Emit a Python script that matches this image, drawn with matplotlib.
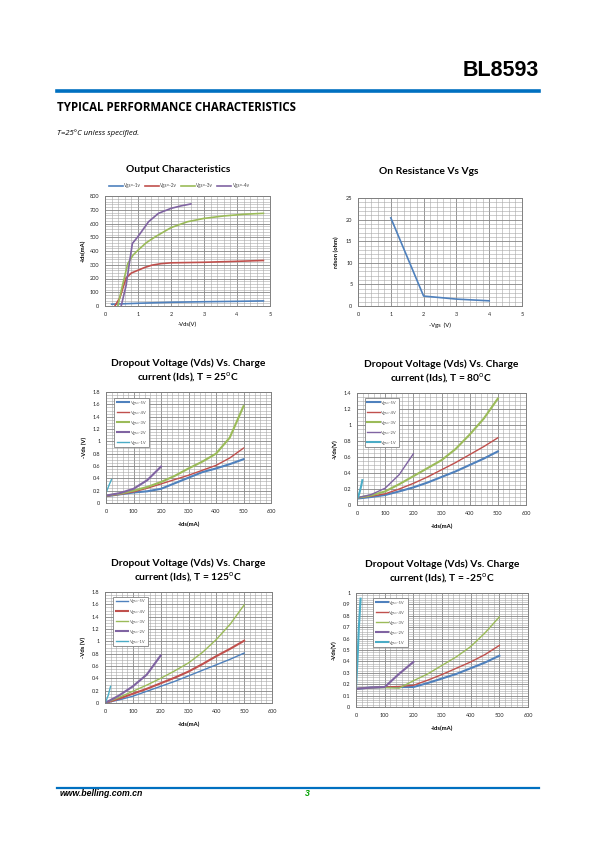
import matplotlib
matplotlib.use("Agg")
import matplotlib.pyplot as plt
from matplotlib.ticker import MultipleLocator, FormatStrFormatter
from matplotlib.lines import Line2D

plt.rcParams['font.family'] = ['Lato', 'DejaVu Sans']

# ---------------- data ----------------
# Output characteristics (-Vds V, -Ids mA)
oc_vgs1_x = [0.2, 1.0, 2.0, 3.0, 4.0, 4.8]
oc_vgs1_y = [13, 20, 27, 31, 34, 37]
oc_vgs2_x = [0.3, 0.45, 0.64, 0.8, 1.0, 1.2, 1.42, 1.7, 2.0, 3.0, 4.0, 4.8]
oc_vgs2_y = [0, 60, 204, 240, 260, 280, 297, 308, 314, 318, 325, 331]
oc_vgs3_x = [0.39, 0.5, 0.69, 0.85, 1.0, 1.25, 1.52, 2.0, 2.5, 3.0, 3.6, 4.2, 4.8]
oc_vgs3_y = [0, 120, 309, 370, 406, 460, 503, 570, 613, 637, 655, 667, 674]
oc_vgs4_x = [0.49, 0.55, 0.64, 0.75, 0.83, 1.0, 1.32, 1.62, 2.0, 2.3, 2.6]
oc_vgs4_y = [0, 60, 150, 330, 455, 505, 613, 674, 710, 728, 742]

# On resistance vs Vgs
ron_vgs = [1, 2, 3, 4]
ron_ohm = [20.4, 2.3, 1.6, 1.2]

# Dropout voltage curves (-Ids mA, -Vds V) for each temperature
do_labels = ['Vgs=-5V', 'Vgs=-4V', 'Vgs=-3V', 'Vgs=-2V', 'Vgs=-1V']
ids_main = [0, 50, 100, 150, 200, 250, 300, 350, 400, 450, 500]
ids_2v = [0, 50, 100, 150, 200]

t25_v5 = [0.11, 0.14, 0.17, 0.19, 0.23, 0.32, 0.41, 0.5, 0.56, 0.63, 0.71]
t25_v4 = [0.11, 0.14, 0.18, 0.24, 0.31, 0.38, 0.45, 0.53, 0.61, 0.73, 0.89]
t25_v3 = [0.12, 0.15, 0.2, 0.26, 0.34, 0.44, 0.56, 0.67, 0.8, 1.06, 1.57]
t25_v2 = [0.12, 0.16, 0.23, 0.37, 0.59]
t25_v1_x = [0, 5, 12, 20]
t25_v1_y = [0.16, 0.22, 0.3, 0.38]

t80_v5 = [0.08, 0.1, 0.125, 0.17, 0.22, 0.28, 0.35, 0.42, 0.5, 0.58, 0.67]
t80_v4 = [0.09, 0.11, 0.14, 0.2, 0.27, 0.35, 0.44, 0.53, 0.63, 0.73, 0.84]
t80_v3 = [0.09, 0.12, 0.17, 0.26, 0.36, 0.46, 0.56, 0.7, 0.88, 1.08, 1.33]
t80_v2 = [0.09, 0.13, 0.21, 0.38, 0.64]
t80_v1_x = [0, 5, 10, 15, 19]
t80_v1_y = [0.08, 0.11, 0.17, 0.24, 0.31]

t125_v5 = [0, 0.05, 0.11, 0.19, 0.27, 0.35, 0.44, 0.53, 0.62, 0.71, 0.81]
t125_v4 = [0, 0.07, 0.15, 0.23, 0.32, 0.41, 0.51, 0.63, 0.76, 0.88, 1.01]
t125_v3 = [0, 0.09, 0.19, 0.29, 0.4, 0.52, 0.65, 0.82, 1.03, 1.28, 1.59]
t125_v2 = [0, 0.12, 0.27, 0.46, 0.77]
t125_v1_x = [0, 6, 12, 20]
t125_v1_y = [0, 0.06, 0.13, 0.27]

tm25_v5 = [0.16, 0.17, 0.175, 0.175, 0.175, 0.21, 0.25, 0.29, 0.34, 0.39, 0.45]
tm25_v4 = [0.16, 0.17, 0.175, 0.18, 0.19, 0.235, 0.285, 0.34, 0.395, 0.46, 0.54]
tm25_v3 = [0.16, 0.17, 0.17, 0.165, 0.23, 0.29, 0.365, 0.44, 0.53, 0.65, 0.79]
tm25_v2 = [0.16, 0.17, 0.175, 0.29, 0.395]
tm25_v1_x = [0, 5, 10, 16]
tm25_v1_y = [0.17, 0.4, 0.7, 0.95]

# ---------------- style ----------------
C_BLUE = '#4F81BD'
C_RED = '#C0504D'
C_GREEN = '#9BBB59'
C_PURPLE = '#8064A2'
C_AQUA = '#4BACC6'
HDR_BLUE = '#0070C0'

W, H = 595, 842
fig = plt.figure(figsize=(W / 100, H / 100), dpi=100)


def ax_at(x0, y0, x1, y1):
    return fig.add_axes([x0 / W, 1 - y1 / H, (x1 - x0) / W, (y1 - y0) / H])


def style(ax, xmaj, xmin, ymaj, ymin, fmt='%g'):
    ax.xaxis.set_major_locator(MultipleLocator(xmaj))
    ax.xaxis.set_minor_locator(MultipleLocator(xmin))
    ax.yaxis.set_major_locator(MultipleLocator(ymaj))
    ax.yaxis.set_minor_locator(MultipleLocator(ymin))
    ax.yaxis.set_major_formatter(FormatStrFormatter(fmt))
    ax.xaxis.set_major_formatter(FormatStrFormatter('%g'))
    ax.grid(which='major', color='#858585', lw=0.6)
    ax.grid(which='minor', color='#a8a8a8', lw=0.4)
    ax.set_axisbelow(True)
    ax.tick_params(which='both', length=0, labelsize=4, pad=4, colors='#222222')
    for s in ax.spines.values():
        s.set_color('#808080')
        s.set_linewidth(0.7)


# ---------------- header / footer ----------------
fig.text(539 / W, 1 - 71 / H, 'BL8593', ha='right', va='center', fontsize=15.5,
         fontweight='bold', family='Liberation Sans')
fig.add_artist(Line2D([57 / W, 539 / W], [1 - 90.5 / H] * 2, color=HDR_BLUE, lw=2.6))
fig.text(57 / W, 1 - 107.5 / H, 'TYPICAL PERFORMANCE CHARACTERISTICS', ha='left', va='center',
         fontsize=8.3, fontweight='bold', family='Open Sans')
fig.text(57 / W, 1 - 133 / H, 'T=25°C unless specified.', ha='left', va='center',
         fontsize=5.6, style='italic', family='Open Sans')
fig.add_artist(Line2D([57 / W, 539 / W], [1 - 787.5 / H] * 2, color=HDR_BLUE, lw=1.6))
fig.text(60 / W, 1 - 794 / H, 'www.belling.com.cn', ha='left', va='center', fontsize=6.3,
         fontweight='bold', style='italic', family='Liberation Sans')
fig.text(307 / W, 1 - 794 / H, '3', ha='center', va='center', fontsize=6.3,
         fontweight='bold', style='italic', family='Liberation Sans', color='#00A000')

# ---------------- Output characteristics ----------------
ax = ax_at(105, 196, 270, 306)
style(ax, 1, 0.2, 100, 20)
ax.set_xlim(0, 5)
ax.set_ylim(0, 800)
h1, = ax.plot(oc_vgs1_x, oc_vgs1_y, color=C_BLUE, lw=1.2, label='Vgs=-1v')
h2, = ax.plot(oc_vgs2_x, oc_vgs2_y, color=C_RED, lw=1.2, label='Vgs=-2v')
h3, = ax.plot(oc_vgs3_x, oc_vgs3_y, color=C_GREEN, lw=1.2, label='Vgs=-3v')
h4, = ax.plot(oc_vgs4_x, oc_vgs4_y, color=C_PURPLE, lw=1.2, label='Vgs=-4v')
ax.set_ylabel('-Ids(mA)', fontsize=4.2, fontweight='bold', labelpad=3)
ax.set_xlabel('-Vds(V)', fontsize=4.2, labelpad=4)
ax.set_title('Output Characteristics', fontsize=7.4, fontweight='bold', pad=17, x=0.442)
lg = ax.legend(handles=[h1, h2, h3, h4], loc='lower center', bbox_to_anchor=(0.45, 1.055), ncol=4,
               fontsize=3.3, frameon=False, handlelength=3.0, handletextpad=0.3,
               columnspacing=0.9, borderaxespad=0)
for t in lg.get_texts():
    t.set_color('#444444')

# ---------------- On resistance ----------------
ax = ax_at(358, 198, 522, 306)
style(ax, 1, 0.2, 5, 1)
ax.set_xlim(0, 5)
ax.set_ylim(0, 25)
ax.plot(ron_vgs, ron_ohm, color=C_BLUE, lw=1.2)
ax.set_ylabel('rdson (ohm)', fontsize=4.2, fontweight='bold', labelpad=5)
ax.set_xlabel('-Vgs  (V)', fontsize=4.2, labelpad=4)
ax.set_title('On Resistance Vs Vgs', fontsize=7.4, fontweight='bold', pad=17, x=0.433)


# ---------------- Dropout charts ----------------
def dropout(box, temp, data, ylim, ymaj, ymin, ylabel, widths, leg_box):
    ax = ax_at(*box)
    style(ax, 100, 20, ymaj, ymin)
    ax.set_xlim(0, 600)
    ax.set_ylim(0, ylim)
    v5, v4, v3, v2, v1x, v1y = data
    hs = []
    hs += ax.plot(ids_main, v5, color=C_BLUE, lw=widths[0])
    hs += ax.plot(ids_main, v4, color=C_RED, lw=widths[1])
    hs += ax.plot(ids_main, v3, color=C_GREEN, lw=widths[2])
    hs += ax.plot(ids_2v, v2, color=C_PURPLE, lw=widths[3])
    hs += ax.plot(v1x, v1y, color=C_AQUA, lw=widths[4])
    ax.set_ylabel(ylabel, fontsize=4.2, fontweight='bold', labelpad=4)
    ax.set_xlabel('-Ids(mA)', fontsize=4.2, fontweight='bold', labelpad=6)
    ax.set_title('Dropout Voltage (Vds) Vs. Charge\ncurrent (Ids), T = ' + temp + '$^{\\rm o}$C',
                 fontsize=7.4, fontweight='bold', pad=8, linespacing=1.35)
    lg = ax.legend(hs, do_labels, loc='upper left', bbox_to_anchor=leg_box, fontsize=3.0,
                   handlelength=3.0, handletextpad=0.3, labelspacing=1.45, borderpad=0.6,
                   borderaxespad=0, fancybox=False, framealpha=1, edgecolor='#808080')
    lg.get_frame().set_linewidth(0.6)
    for t in lg.get_texts():
        t.set_color('#555555')
    return ax


dropout((106, 392, 271, 503), '25', [t25_v5, t25_v4, t25_v3, t25_v2, t25_v1_x, t25_v1_y],
        1.8, 0.2, 0.05, '-Vds (V)', [1.5, 1.0, 1.5, 1.5, 1.0], (0.05, 0.945))
dropout((357, 393, 526, 505), '80', [t80_v5, t80_v4, t80_v3, t80_v2, t80_v1_x, t80_v1_y],
        1.4, 0.2, 0.05, '-Vds(V)', [1.5, 1.0, 1.5, 1.0, 1.5], (0.047, 0.955))
dropout((105, 592, 272, 703), '125', [t125_v5, t125_v4, t125_v3, t125_v2, t125_v1_x, t125_v1_y],
        1.8, 0.2, 0.05, '-Vds (V)', [1.0, 1.5, 1.0, 1.5, 1.0], (0.05, 0.955))
dropout((356, 593, 528, 707), '-25', [tm25_v5, tm25_v4, tm25_v3, tm25_v2, tm25_v1_x, tm25_v1_y],
        1.0, 0.1, 0.02, '-Vds(V)', [1.5, 1.0, 1.0, 1.5, 1.5], (0.1, 0.956))

fig.savefig('out.png', dpi=100)
